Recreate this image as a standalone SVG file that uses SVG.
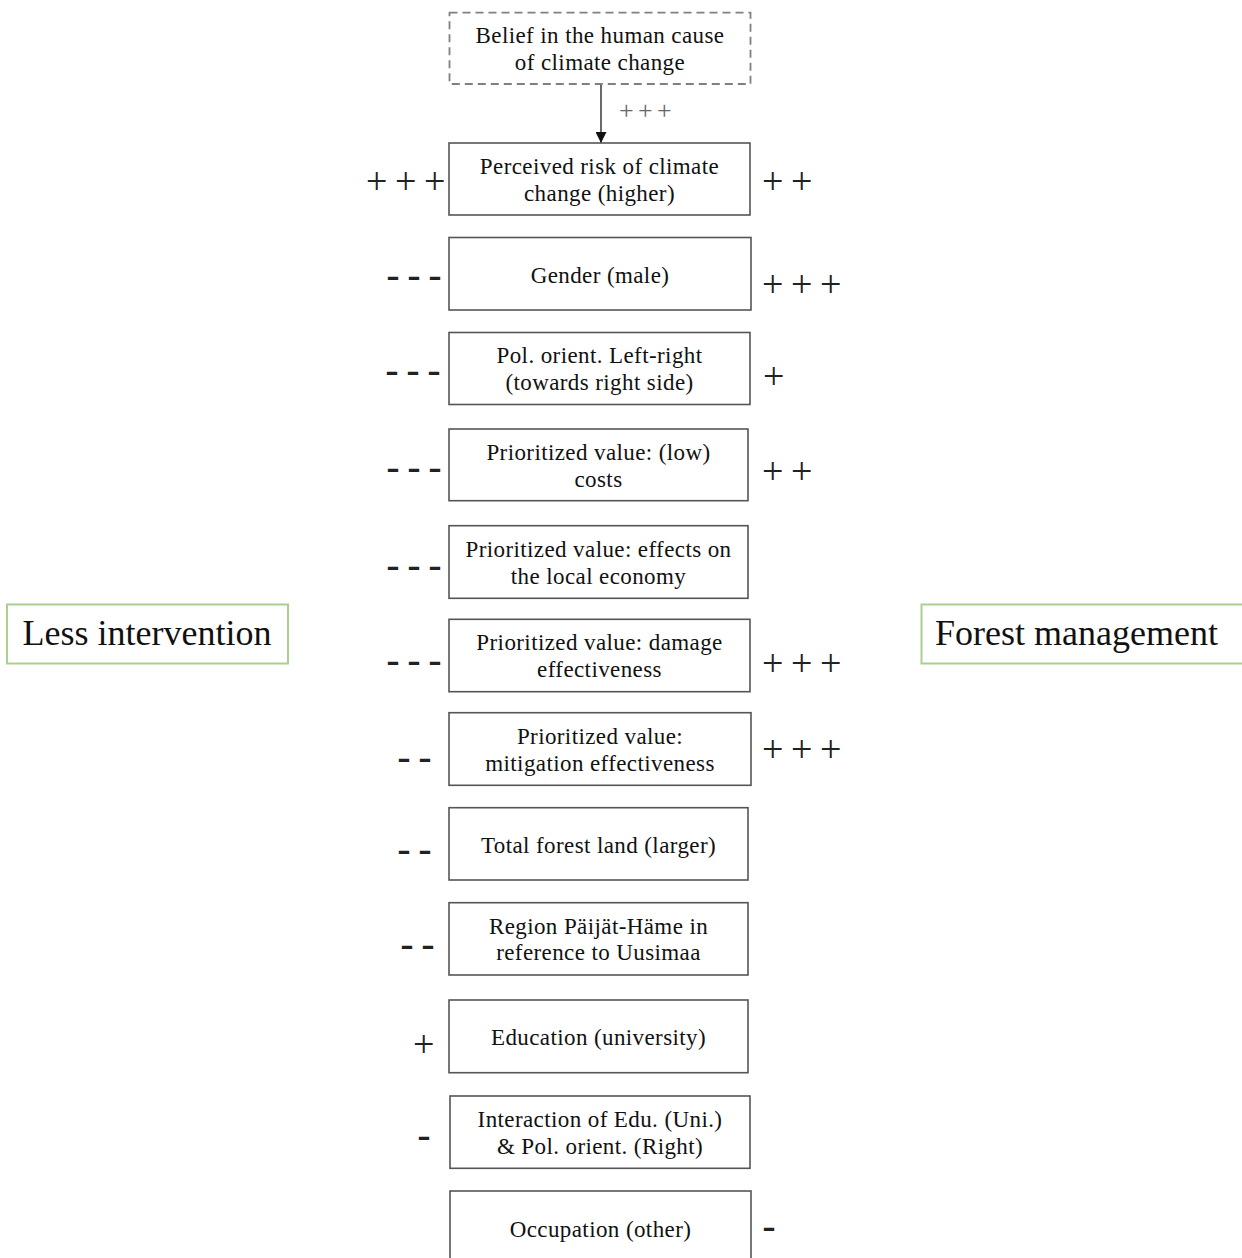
<svg xmlns="http://www.w3.org/2000/svg" width="1242" height="1258" viewBox="0 0 1242 1258">
<style>
.bx{fill:#fff;stroke:#555;stroke-width:1.6}
.dash{fill:#fff;stroke:#808080;stroke-width:1.8;stroke-dasharray:8 5}
.lbl{fill:#fff;stroke:#a9d08e;stroke-width:2}
.t{font-family:"Liberation Serif","Times New Roman",serif;font-size:23px;letter-spacing:0.4px;fill:#111;text-anchor:middle}
.big{font-family:"Liberation Serif","Times New Roman",serif;font-size:36px;fill:#111;text-anchor:middle}
.pl{font-family:"Liberation Serif","Times New Roman",serif;font-size:38px;letter-spacing:7.6px;fill:#222}
.mi{font-family:"Liberation Sans",Arial,sans-serif;font-size:42px;letter-spacing:7px;fill:#222}
.sp{font-family:"Liberation Serif","Times New Roman",serif;font-size:26px;letter-spacing:4.3px;fill:#666}
</style>
<defs>
<marker id="ah" viewBox="0 0 10 10" refX="10" refY="5" markerWidth="11" markerHeight="11" markerUnits="userSpaceOnUse" orient="auto">
<path d="M0,0 L10,5 L0,10 Z" fill="#111"/>
</marker>
</defs>

<g id="connectors">
<line x1="601" y1="84" x2="601" y2="143" stroke="#444" stroke-width="1.6" marker-end="url(#ah)"/>
<text class="sp" x="619" y="119">+++</text>
</g>

<g id="less-intervention">
<rect class="lbl" x="7" y="604.5" width="281" height="59"/>
<text class="big" x="147" y="645">Less intervention</text>
</g>
<g id="forest-management">
<rect class="lbl" x="921.5" y="604.5" width="330" height="59"/>
<text class="big" x="1076.5" y="645">Forest management</text>
</g>

<g id="belief">
<rect class="dash" x="449.5" y="12.7" width="301" height="71.3"/>
<text class="t" x="600" y="43.3">Belief in the human cause</text>
<text class="t" x="600" y="70">of climate change</text>
</g>

<g id="perceived-risk">
<rect class="bx" x="449" y="143" width="301" height="72"/>
<text class="t" x="599.5" y="173.5">Perceived risk of climate</text>
<text class="t" x="599.5" y="200.5">change (higher)</text>
<text class="pl" x="366" y="194.3">+++</text>
<text class="pl" x="762" y="194">++</text>
</g>

<g id="gender">
<rect class="bx" x="449" y="237.5" width="302" height="72.5"/>
<text class="t" x="600" y="283.3">Gender (male)</text>
<text class="mi" x="386" y="289.7">---</text>
<text class="pl" x="762" y="297.3">+++</text>
</g>

<g id="pol-orient">
<rect class="bx" x="449" y="332.5" width="301" height="72"/>
<text class="t" x="599.5" y="363.3">Pol. orient. Left-right</text>
<text class="t" x="599.5" y="390">(towards right side)</text>
<text class="mi" x="385" y="384.6">---</text>
<text class="pl" x="763" y="389">+</text>
</g>

<g id="low-costs">
<rect class="bx" x="449" y="429" width="299" height="71.7"/>
<text class="t" x="598.5" y="459.7">Prioritized value: (low)</text>
<text class="t" x="598.5" y="486.5">costs</text>
<text class="mi" x="386" y="482">---</text>
<text class="pl" x="762" y="484">++</text>
</g>

<g id="local-economy">
<rect class="bx" x="449" y="525.7" width="299" height="72.6"/>
<text class="t" x="598.5" y="556.7">Prioritized value: effects on</text>
<text class="t" x="598.5" y="583.5">the local economy</text>
<text class="mi" x="386" y="579.6">---</text>
</g>

<g id="damage-effectiveness">
<rect class="bx" x="449" y="619.3" width="301" height="72.4"/>
<text class="t" x="599.5" y="650.2">Prioritized value: damage</text>
<text class="t" x="599.5" y="677">effectiveness</text>
<text class="mi" x="386" y="674.6">---</text>
<text class="pl" x="762" y="676">+++</text>
</g>

<g id="mitigation-effectiveness">
<rect class="bx" x="449" y="712.7" width="302" height="72.6"/>
<text class="t" x="600" y="743.7">Prioritized value:</text>
<text class="t" x="600" y="770.5">mitigation effectiveness</text>
<text class="mi" x="397" y="772">--</text>
<text class="pl" x="762" y="761.6">+++</text>
</g>

<g id="forest-land">
<rect class="bx" x="449" y="807.7" width="299" height="72.3"/>
<text class="t" x="598.5" y="853.3">Total forest land (larger)</text>
<text class="mi" x="397" y="863.6">--</text>
</g>

<g id="region">
<rect class="bx" x="449" y="902.7" width="299" height="72.3"/>
<text class="t" x="598.5" y="933.5">Region Päijät-Häme in</text>
<text class="t" x="598.5" y="960.3">reference to Uusimaa</text>
<text class="mi" x="400" y="959.3">--</text>
</g>

<g id="education">
<rect class="bx" x="449" y="1000" width="299" height="72.7"/>
<text class="t" x="598.5" y="1045">Education (university)</text>
<text class="pl" x="413" y="1057.3">+</text>
</g>

<g id="interaction">
<rect class="bx" x="450" y="1096" width="300" height="72.3"/>
<text class="t" x="600" y="1127">Interaction of Edu. (Uni.)</text>
<text class="t" x="600" y="1153.8">&amp; Pol. orient. (Right)</text>
<text class="mi" x="417" y="1150.3">-</text>
</g>

<g id="occupation">
<rect class="bx" x="450" y="1191" width="301" height="75"/>
<text class="t" x="600.5" y="1236.7">Occupation (other)</text>
<text class="mi" x="762" y="1241.3">-</text>
</g>
</svg>
